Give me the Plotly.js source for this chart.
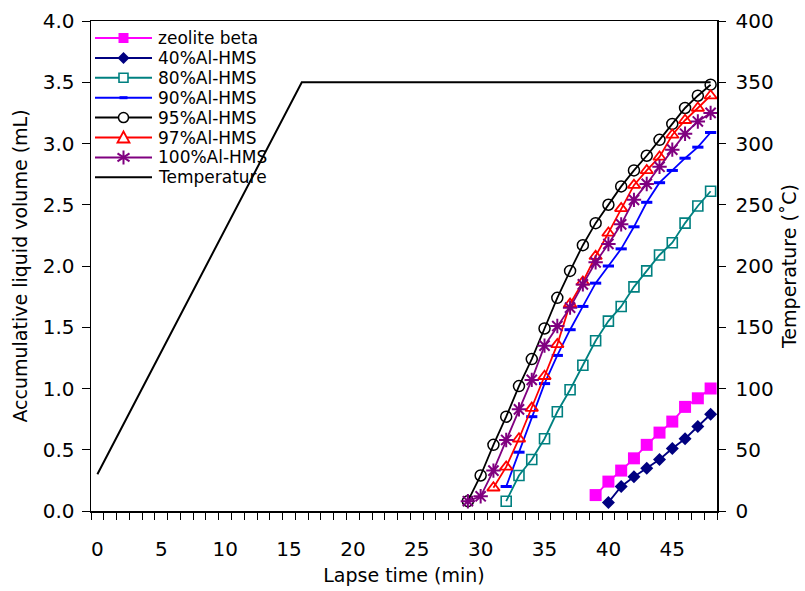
<!DOCTYPE html>
<html><head><meta charset="utf-8">
<script src="https://cdn.plot.ly/plotly-3.0.1.min.js"></script>
<style>html,body{margin:0;padding:0;background:#fff;}#chart{width:805px;height:591px;}</style>
</head><body><div id="chart"></div>
<script>
// ---------- data ----------
const seriesNames = ['zeolite beta','40%Al-HMS','80%Al-HMS','90%Al-HMS','95%Al-HMS','97%Al-HMS','100%Al-HMS','Temperature'];
const timeZeolite = [39,40,41,42,43,44,45,46,47,48];
const volZeolite  = [0.13,0.24,0.33,0.43,0.54,0.64,0.73,0.85,0.92,1.00];
const time40 = [40,41,42,43,44,45,46,47,48];
const vol40  = [0.07,0.20,0.28,0.35,0.42,0.51,0.59,0.69,0.79];
const time80 = [32,33,34,35,36,37,38,39,40,41,42,43,44,45,46,47,48];
const vol80  = [0.08,0.29,0.42,0.59,0.81,0.99,1.19,1.39,1.55,1.67,1.83,1.96,2.09,2.19,2.35,2.49,2.61];
const time90 = [32,33,34,35,36,37,38,39,40,41,42,43,44,45,46,47,48];
const vol90  = [0.20,0.48,0.77,1.04,1.27,1.48,1.67,1.86,2.00,2.14,2.32,2.52,2.68,2.78,2.88,2.97,3.09];
const time95 = [29,30,31,32,33,34,35,36,37,38,39,40,41,42,43,44,45,46,47,48];
const vol95  = [0.08,0.29,0.54,0.77,1.02,1.24,1.49,1.74,1.96,2.17,2.35,2.50,2.65,2.78,2.90,3.03,3.16,3.29,3.39,3.48];
const time97 = [31,32,33,34,35,36,37,38,39,40,41,42,43,44,45,46,47,48];
const vol97  = [0.19,0.36,0.59,0.84,1.10,1.36,1.69,1.87,2.08,2.27,2.47,2.66,2.78,2.89,3.07,3.19,3.29,3.39];
const time100 = [29,30,31,32,33,34,35,36,37,38,39,40,41,42,43,44,45,46,47,48];
const vol100  = [0.08,0.12,0.33,0.58,0.83,1.07,1.35,1.51,1.66,1.85,2.03,2.18,2.34,2.54,2.67,2.81,2.95,3.08,3.18,3.25];
const timeTemp = [0,2,4,6,8,10,12,14,16,48];
const tempC    = [30,70,110,150,190,230,270,310,350,350];

const xTickVals = [0,5,10,15,20,25,30,35,40,45];
const xTickText = ['0','5','10','15','20','25','30','35','40','45'];
const yTickVals = [0,0.5,1,1.5,2,2.5,3,3.5,4];
const y2TickVals = [0,50,100,150,200,250,300,350,400];

// ---------- styles ----------
const FONT = 'DejaVu Sans, Liberation Sans, Arial, sans-serif';
const styles = [
  {color:'#FF00FF', symbol:'square', size:12, lw:0},
  {color:'#000080', symbol:'diamond', size:10, lw:0},
  {color:'#008080', symbol:'square-open', size:10, lw:1.6},
  {color:'#0000FF', symbol:'line-ew', size:8, lw:3},
  {color:'#000000', symbol:'circle-open', size:11, lw:1.5},
  {color:'#FF0000', symbol:'triangle-up-open', size:11, lw:1.8},
  {color:'#800080', symbol:'asterisk-open', size:12, lw:2}
];
const xs = [timeZeolite,time40,time80,time90,time95,time97,time100];
const ys = [volZeolite,vol40,vol80,vol90,vol95,vol97,vol100];

const traces = xs.map((x,i)=>({
  type:'scatter', mode:'lines+markers', name:seriesNames[i], x:x, y:ys[i],
  line:{color:styles[i].color, width:1.8},
  marker:{symbol:styles[i].symbol, size:styles[i].size, color:styles[i].color,
          line:{color:styles[i].color, width:styles[i].lw}},
  xaxis:'x', yaxis:'y', cliponaxis:false
}));
traces.push({type:'scatter', mode:'lines', name:seriesNames[7], x:timeTemp, y:tempC,
  line:{color:'#000000', width:2}, xaxis:'x', yaxis:'y2'});

// ---------- geometry for the hand-drawn legend ----------
const W=805, H=591, ML=91, MR=88, MT=21, MB=80;
const PW=W-ML-MR, PH=H-MT-MB;
const px = x => (x-ML)/PW;
const py = y => (H-MB-y)/PH;
const shapes=[], annotations=[];
const L0=95, L1=152, LM=123.5, LT=157, R0=38, RS=19.9;
seriesNames.forEach((nm,i)=>{
  const yy = R0 + RS*i;
  const col = i<7 ? styles[i].color : '#000000';
  shapes.push({type:'line', xref:'paper', yref:'paper', x0:px(L0), x1:px(L1), y0:py(yy), y1:py(yy), line:{color:col, width:2}});
  annotations.push({xref:'paper', yref:'paper', x:px(LT), y:py(yy), xanchor:'left', yanchor:'middle', text:nm, showarrow:false,
    borderpad:0, font:{family:FONT, size:17, color:'#000'}});
  const c=LM, P=(a,b)=>px(c+a)+','+py(yy+b);
  if(i===0) shapes.push({type:'rect', xref:'paper', yref:'paper', x0:px(c-5), x1:px(c+5), y0:py(yy-5), y1:py(yy+5), fillcolor:col, line:{width:0}});
  if(i===1) shapes.push({type:'path', xref:'paper', yref:'paper', path:'M'+P(0,-6)+' L'+P(6,0)+' L'+P(0,6)+' L'+P(-6,0)+' Z', fillcolor:col, line:{width:0}});
  if(i===2) shapes.push({type:'rect', xref:'paper', yref:'paper', x0:px(c-4.5), x1:px(c+4.5), y0:py(yy-4.5), y1:py(yy+4.5), fillcolor:'#fff', line:{color:col, width:1.6}});
  if(i===3) shapes.push({type:'rect', xref:'paper', yref:'paper', x0:px(c-4), x1:px(c+4), y0:py(yy-1.5), y1:py(yy+1.5), fillcolor:col, line:{width:0}});
  if(i===4) shapes.push({type:'circle', xref:'paper', yref:'paper', x0:px(c-5), x1:px(c+5), y0:py(yy-5), y1:py(yy+5), fillcolor:'#fff', line:{color:col, width:1.5}});
  if(i===5) shapes.push({type:'path', xref:'paper', yref:'paper', path:'M'+P(0,-6)+' L'+P(6,5)+' L'+P(-6,5)+' Z', fillcolor:'#fff', line:{color:col, width:1.8}});
  if(i===6) shapes.push({type:'path', xref:'paper', yref:'paper', path:'M'+P(0,-7)+' L'+P(0,7)+' M'+P(-6,-4)+' L'+P(6,4)+' M'+P(-6,4)+' L'+P(6,-4), line:{color:col, width:2}});
});

const axisCommon = {showgrid:false, zeroline:false, linecolor:'#000', tickcolor:'#000', fixedrange:true};
const layout = {
  width:W, height:H, margin:{l:ML, r:MR, t:MT, b:MB, pad:0},
  paper_bgcolor:'#fff', plot_bgcolor:'rgba(0,0,0,0)', showlegend:false,
  font:{family:FONT, size:20, color:'#000'},
  xaxis:Object.assign({}, axisCommon, {range:[-0.5,48.5], tickmode:'array', tickvals:xTickVals, ticktext:xTickText,
    ticks:'', showline:true, mirror:true, linewidth:1.5, ticklabelstandoff:19,
    minor:{ticks:'outside', tick0:-0.5, dtick:1, ticklen:7, tickwidth:1, tickcolor:'#000', showgrid:false},
    title:{text:'Lapse time (min)', font:{family:FONT, size:19}, standoff:9}}),
  yaxis:Object.assign({}, axisCommon, {range:[0,4], tickmode:'array', tickvals:yTickVals, tickformat:'.1f',
    ticks:'outside', ticklen:8, tickwidth:1, showline:true, linewidth:1.5, ticklabelstandoff:3,
    title:{text:'Accumulative liquid volume (mL)', font:{family:FONT, size:19}, standoff:10}}),
  yaxis2:Object.assign({}, axisCommon, {overlaying:'y', side:'right', anchor:'x', range:[0,400], tickmode:'array', tickvals:y2TickVals,
    ticks:'outside', ticklen:7, tickwidth:1, showline:true, linewidth:1.5, ticklabelstandoff:6,
    title:{text:'Temperature (˚C)', font:{family:FONT, size:19}, standoff:10}}),
  shapes:shapes, annotations:annotations
};
Plotly.newPlot('chart', traces, layout, {staticPlot:true, displayModeBar:false});
</script>
</body></html>
